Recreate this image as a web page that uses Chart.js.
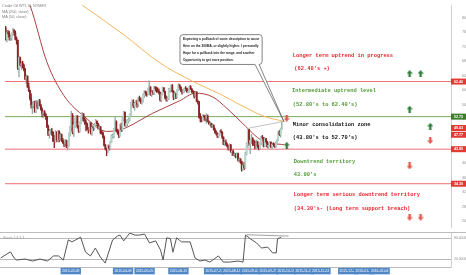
<!DOCTYPE html>
<html lang="en">
<head>
<meta charset="utf-8" />
<title>Crude Oil WTI, D, NYMEX</title>
<style>
  html, body { margin: 0; padding: 0; background: #fff; }
  #wrap { position: relative; width: 466px; height: 275px; overflow: hidden; }
  #priceWrap { position: absolute; left: 0; top: 0; width: 466px; height: 232px; }
  #oscWrap { position: absolute; left: 0; top: 232px; width: 466px; height: 43px; }
</style>
</head>
<body>
<div id="wrap">
  <div id="priceWrap"><canvas id="priceChart"></canvas></div>
  <div id="oscWrap"><canvas id="oscChart"></canvas></div>
</div>
<script src="https://cdn.jsdelivr.net/npm/chart.js@4.4.1/dist/chart.umd.min.js"></script>
<script>
// daily bars, 13 Nov 2014 .. 9 Oct 2015 (bar index = trading day)
const opens = [77.2,74.2,75.8,75.6,74.6,74.6,75.6,76.5,75.8,74.1,
  73.7,66.2,69.0,66.9,67.4,66.8,65.8,63.1,63.8,60.9,
  59.95,57.8,55.9,55.9,56.5,54.1,56.5,55.3,57.1,55.8,
  54.7,53.6,54.1,53.3,52.7,50.0,47.9,48.7,48.8,48.4,
  46.1,45.9,48.5,46.25,48.7,46.4,47.8,46.3,45.6,45.2,
  46.2,44.45,44.5,48.2,49.6,53.1,48.45,50.5,51.7,52.9,
  50.0,48.8,51.2,52.8,53.5,52.1,51.2,50.8,49.45,49.0,
  51.0,48.2,49.8,49.6,50.5,51.5,50.8,49.6,50.0,48.3,
  48.2,47.05,44.8,43.9,43.5,44.7,44.0,45.7,47.45,47.5,
  49.2,51.4,48.9,48.7,47.6,50.1,49.1,52.1,54.0,50.4,
  50.8,51.6,51.9,53.3,56.4,56.7,55.7,56.4,56.6,56.2,
  57.7,57.2,57.0,57.1,58.6,59.6,59.2,58.9,60.4,60.9,
  58.9,59.4,59.25,60.75,60.5,59.9,59.7,59.4,57.3,59.0,
  60.7,59.7,58.0,57.5,57.7,60.2,60.2,61.3,59.6,58.0,
  59.1,58.1,60.1,61.4,60.8,60.0,59.5,60.0,60.5,60.45,
  59.6,59.7,61.0,60.3,59.7,59.6,58.3,59.5,56.96,56.9,
  52.5,52.3,51.65,52.8,52.7,52.2,53.0,51.4,50.9,50.9,
  50.15,50.4,49.2,48.45,48.1,47.4,47.98,48.8,48.5,47.1,
  45.2,45.7,45.15,44.66,43.87,44.96,43.08,43.3,42.2,42.5,
  41.9,42.6,40.8,41.1,40.45,38.24,39.3,38.6,42.56,45.2,
  49.2,45.4,46.25,46.75,46.05,45.9,44.15,45.9,44.6,44.0,
  45.6,47.15,46.9,44.7,46.7,45.8,44.5,44.9,45.7,44.4,
  45.2,45.1,44.7,45.5,46.3,48.5,47.8,49.4];
const highs = [77.6,76.0,76.5,76.2,75.2,75.8,77.0,76.7,76.3,74.7,
  73.8,69.4,69.1,67.8,68.0,67.2,66.0,64.2,64.0,62.0,
  60.0,59.0,56.8,57.0,57.0,57.2,57.0,57.4,57.5,56.1,
  55.2,54.3,54.4,53.6,52.8,50.4,49.3,49.3,49.5,48.6,
  47.6,48.9,48.6,48.9,48.9,48.3,48.0,46.8,46.1,46.5,
  46.3,44.9,48.3,50.1,54.2,53.6,51.3,52.3,53.1,53.0,
  50.3,51.4,53.0,53.9,53.6,52.4,51.9,51.0,49.8,51.3,
  51.1,50.3,50.2,50.9,52.0,51.6,51.0,50.5,50.1,48.9,
  48.6,47.5,45.1,44.1,45.0,44.9,46.0,47.8,48.0,49.5,
  52.5,51.6,49.3,48.8,50.6,51.0,52.5,54.2,54.0,51.6,
  52.0,52.4,53.5,56.7,57.4,57.4,56.7,57.2,57.3,58.0,
  58.4,57.9,57.5,59.0,59.9,59.8,59.6,60.6,62.6,61.0,
  60.0,59.9,61.1,61.0,60.9,60.7,60.3,59.5,59.2,60.9,
  60.7,59.8,58.5,58.2,60.5,60.6,61.4,61.6,59.9,59.6,
  59.2,60.2,61.8,61.6,61.0,60.2,60.3,60.7,61.0,60.6,
  60.3,61.2,61.3,60.5,60.0,59.7,59.7,59.6,57.3,56.9,
  53.6,52.8,53.3,53.2,53.1,53.6,53.2,51.6,51.3,51.0,
  50.8,50.5,49.6,48.9,48.3,48.1,49.0,49.2,48.6,47.2,
  46.0,46.4,45.5,44.9,45.3,45.1,43.5,43.6,42.8,42.6,
  42.8,42.7,41.4,41.2,40.5,39.9,40.2,42.9,45.5,49.3,
  49.3,46.5,47.9,47.0,46.4,46.0,46.3,46.0,44.9,45.7,
  47.3,47.6,47.0,46.9,46.8,46.0,45.3,45.9,45.8,45.4,
  45.6,45.3,45.8,46.5,48.7,49.0,49.6,51.4];
const lows = [73.8,73.3,74.7,73.8,73.7,73.8,75.0,75.2,73.9,72.7,
  65.7,63.7,66.6,65.7,66.1,65.3,62.9,61.9,60.8,59.6,
  57.3,55.1,53.6,55.1,53.9,53.9,54.9,55.0,55.6,54.5,
  52.7,52.4,52.9,52.0,49.7,47.5,46.8,47.8,47.6,45.9,
  44.2,45.7,45.8,45.9,45.8,46.2,45.9,45.4,44.5,44.8,
  44.2,43.6,44.4,47.4,49.0,48.0,47.3,49.7,51.1,49.6,
  48.4,48.5,50.8,51.6,51.5,50.6,48.8,49.2,48.2,48.8,
  47.9,47.6,48.9,49.1,50.0,50.3,49.4,49.1,48.0,47.9,
  46.8,44.6,43.6,42.0,42.8,43.5,43.9,45.6,46.8,46.9,
  49.0,48.5,47.9,47.0,47.3,48.6,48.7,51.6,50.1,49.9,
  50.3,51.0,51.6,53.1,55.9,55.2,54.5,55.7,55.3,55.5,
  56.9,56.4,56.2,56.8,58.0,58.6,58.3,58.7,60.1,58.6,
  58.3,58.8,58.8,59.8,59.4,59.5,58.9,57.0,56.9,58.7,
  59.5,57.6,57.0,56.9,57.4,59.4,59.6,59.5,57.4,57.6,
  57.7,58.0,59.9,60.2,59.6,58.9,59.3,59.5,59.9,59.4,
  59.3,59.5,60.2,59.3,59.1,57.8,58.2,56.8,56.2,52.3,
  51.3,51.3,51.5,51.8,51.6,50.9,51.3,50.6,50.3,49.8,
  49.8,49.0,48.2,47.7,47.0,46.9,47.6,48.2,46.7,45.0,
  44.8,44.9,44.4,43.5,43.6,42.9,42.0,42.0,41.8,41.4,
  41.6,40.5,40.2,39.9,37.75,38.0,38.2,38.5,42.2,44.2,
  44.9,42.6,45.3,44.8,44.8,43.9,43.8,44.2,43.6,43.9,
  45.0,46.5,44.4,44.5,45.4,44.3,44.0,44.6,44.2,43.9,
  44.6,44.3,44.2,45.1,46.1,47.5,47.1,49.2];
const closes = [74.2,75.8,75.6,74.6,74.6,75.6,76.5,75.8,74.1,73.7,
  66.2,69.0,66.9,67.4,66.8,65.8,63.1,63.8,60.9,59.95,
  57.8,55.9,55.9,56.5,54.1,56.5,55.3,57.1,55.8,54.7,
  53.6,54.1,53.3,52.7,50.0,47.9,48.7,48.8,48.4,46.1,
  45.9,48.5,46.25,48.7,46.4,47.8,46.3,45.6,45.2,46.2,
  44.45,44.5,48.2,49.6,53.1,48.45,50.5,51.7,52.9,50.0,
  48.8,51.2,52.8,53.5,52.1,51.2,50.8,49.45,49.0,51.0,
  48.2,49.8,49.6,50.5,51.5,50.8,49.6,50.0,48.3,48.2,
  47.05,44.8,43.9,43.5,44.7,44.0,45.7,47.45,47.5,49.2,
  51.4,48.9,48.7,47.6,50.1,49.1,52.1,54.0,50.4,50.8,
  51.6,51.9,53.3,56.4,56.7,55.7,56.4,56.6,56.2,57.7,
  57.2,57.0,57.1,58.6,59.6,59.2,58.9,60.4,60.9,58.9,
  59.4,59.25,60.75,60.5,59.9,59.7,59.4,57.3,59.0,60.7,
  59.7,58.0,57.5,57.7,60.3,60.2,61.3,59.6,58.0,59.1,
  58.1,60.1,61.4,60.8,60.0,59.5,60.0,60.5,60.45,59.6,
  59.7,61.0,60.3,59.7,59.6,58.3,59.5,56.96,56.9,52.5,
  52.3,51.65,52.8,52.7,52.2,53.0,51.4,50.9,50.9,50.15,
  50.4,49.2,48.45,48.1,47.4,47.98,48.8,48.5,47.1,45.2,
  45.7,45.15,44.66,43.87,44.96,43.08,43.3,42.2,42.5,41.9,
  42.6,40.8,41.1,40.45,38.24,39.3,38.6,42.56,45.2,49.2,
  45.4,46.25,46.75,46.05,45.9,44.15,45.9,44.6,44.0,45.6,
  47.15,46.9,44.7,46.7,45.8,44.5,44.9,45.7,44.4,45.2,
  45.1,44.7,45.5,46.3,48.5,47.8,49.4,49.63];

// moving averages
const ma200Bars = [48, 63, 97, 126, 154, 176, 195, 212, 229];
const ma200 = [87.1, 83.4, 75.3, 67.7, 62.4, 59.0, 55.6, 52.9, 51.4];
const ma50Bars = [16, 20, 34, 48, 65, 83, 95, 121, 143, 156, 170, 182, 195, 211, 229];
const ma50 = [86.0, 83.4, 67.7, 58.5, 52.7, 48.7, 49.2, 53.7, 57.1, 59.2, 58.2, 55.0, 50.8, 46.1, 45.0];

// drawn levels and marks
const levelValues = [62.40, 52.75, 43.80, 34.30];
const axisTags = [62.40, 52.75, 49.63, 47.77, 43.80, 34.30];
const trendBars = [200, 228];
const trendPrices = [49.6, 51.4];
const upMarkBars = [332, 341, 332, 349, 231];
const upMarkPrices = [64.6, 64.6, 54.8, 50.1, 44.85];
const downMarkBars = [349, 332, 332, 341, 231];
const downMarkPrices = [46.2, 39.2, 25.1, 25.1, 52.3];

// stochastic
const stochBars = [0, 8, 11, 13, 20, 26, 32, 38, 43, 47, 51, 55, 58, 61, 65, 69, 73, 77, 81, 85,
  91, 95, 97, 100, 103, 105, 109, 113, 117, 121, 126, 130, 132, 135, 138, 140, 143, 147, 154, 158,
  162, 166, 170, 177, 181, 186, 193, 197, 199, 203, 208, 212, 217, 221, 224, 225, 228];
const stochK = [23, 41, 23, 17, 20, 14, 20, 14, 29, 29, 17, 76, 70, 76, 84, 40, 29, 52, 26, 8,
  76, 87, 90, 73, 87, 96, 90, 90, 93, 67, 73, 46, 17, 82, 79, 40, 82, 70, 70, 23,
  14, 17, 11, 29, 11, 11, 14, 11, 90, 79, 67, 52, 55, 38, 38, 79, 84];
const stochTrendBars = [200, 234];
const stochTrendValues = [91, 87];

// axes
const priceTicks = [80, 76, 72, 68, 64, 60, 56, 52, 48, 44, 40, 36, 32, 28, 24];
const oscTicks = [80, 20];
const monthLabels = ['Dec', '2015', 'Feb', 'Mar', 'Apr', 'May', 'Jun', 'Jul', 'Aug', 'Sep', 'Oct', 'Nov', 'Dec', '2016', 'Feb', 'Mar', 'Apr'];
const monthBars = [11, 33, 53, 72, 94, 115, 135, 157, 179, 200, 221, 243, 263, 285, 304, 324, 346];
const dateTagBars = [57, 99.5, 117, 144.5, 173.5, 188, 203, 217.5, 232, 246.5, 260, 282.5, 295.5, 308];
const dateTagTexts = ['2015-02-09', '2015-04-09', '2015-05-05', '2015-06-15', '2015-07-24', '2015-08-14', '2015-09-04',
  '2015-09-25', '2015-10-16', '2015-11-05', '2015-11-24', '2015-12-29', '2016-01-19', '2016-02-04'];

const xMin = -0.5, xMax = 366;
const RED = '#e8262b', GREEN = '#4f9a34';

function arrowMark(color, up) {
  const c = document.createElement('canvas');
  c.width = 6; c.height = 7;
  const g = c.getContext('2d');
  g.fillStyle = color;
  g.beginPath();
  if (up) {
    g.moveTo(0, 3.4); g.lineTo(3, 0); g.lineTo(6, 3.4);
    g.lineTo(4.2, 3.4); g.lineTo(4.2, 7); g.lineTo(1.8, 7); g.lineTo(1.8, 3.4);
  } else {
    g.moveTo(0, 3.6); g.lineTo(3, 7); g.lineTo(6, 3.6);
    g.lineTo(4.2, 3.6); g.lineTo(4.2, 0); g.lineTo(1.8, 0); g.lineTo(1.8, 3.6);
  }
  g.closePath();
  g.fill();
  return c;
}

const notes = [
  { text: 'Longer term uptrend in progress', bar: 236, price: 69.6, color: RED },
  { text: "(62.40's +)", bar: 237.2, price: 65.9, color: RED },
  { text: 'Intermediate uptrend level', bar: 235.3, price: 59.9, color: GREEN },
  { text: "(52.80's to 62.40's)", bar: 236, price: 56.1, color: GREEN },
  { text: 'Minor consolidation zone', bar: 236, price: 50.6, color: '#111' },
  { text: "(43.80's to 52.70's)", bar: 236, price: 46.95, color: '#111' },
  { text: 'Downtrend territory', bar: 236.8, price: 40.4, color: GREEN },
  { text: "43.90's", bar: 236.8, price: 36.7, color: GREEN },
  { text: 'Longer term serious downtrend territory', bar: 236.8, price: 31.3, color: RED },
  { text: "(34.30's- (Long term support breach)", bar: 236.8, price: 27.5, color: RED },
];
const calloutLines = [
  'Expecting a pullback of some description to occur',
  'Here on the 200MA, or slightly higher. I personally',
  'Hope for a pullback into the range, and another',
  'Opportunity to get more position.',
];

const priceDecor = {
  id: 'priceDecor',
  afterDraw(chart) {
    const { ctx, scales: { x, y } } = chart;
    ctx.save();
    ctx.textBaseline = 'middle';
    // legend
    ctx.font = '3.8px "Liberation Sans"';
    ctx.fillStyle = '#808080';
    ctx.fillText('Crude Oil WTI, D, NYMEX', 2, 5.7);
    ctx.fillText('MA (200, close)', 2, 11.6);
    ctx.fillText('MA (50, close)', 2, 17.4);

    // callout
    const bl = x.getPixelForValue(143.3), br = x.getPixelForValue(210.8);
    const bt = y.getPixelForValue(75.3), bb = y.getPixelForValue(67.1);
    const tx = x.getPixelForValue(228.7), ty = y.getPixelForValue(51.4);
    const p1 = x.getPixelForValue(205), p2 = x.getPixelForValue(208.3);
    const r = 3;
    ctx.beginPath();
    ctx.moveTo(bl + r, bt); ctx.lineTo(br - r, bt); ctx.quadraticCurveTo(br, bt, br, bt + r);
    ctx.lineTo(br, bb - r); ctx.quadraticCurveTo(br, bb, br - r, bb);
    ctx.lineTo(p2, bb); ctx.lineTo(tx, ty); ctx.lineTo(p1, bb);
    ctx.lineTo(bl + r, bb); ctx.quadraticCurveTo(bl, bb, bl, bb - r);
    ctx.lineTo(bl, bt + r); ctx.quadraticCurveTo(bl, bt, bl + r, bt);
    ctx.closePath();
    ctx.fillStyle = '#fff';
    ctx.fill();
    ctx.strokeStyle = '#666';
    ctx.lineWidth = 0.8;
    ctx.stroke();
    ctx.fillStyle = '#222';
    ctx.font = 'bold 3.2px "Liberation Sans"';
    calloutLines.forEach((t, k) => ctx.fillText(t, bl + 3, bt + 4.3 + k * 7.2));

    // notes
    ctx.font = 'bold 5.4px "Liberation Mono"';
    notes.forEach(n => {
      ctx.fillStyle = n.color;
      ctx.fillText(n.text, x.getPixelForValue(n.bar), y.getPixelForValue(n.price));
    });

    // price tags on the axis
    ctx.font = 'bold 3.6px "Liberation Sans"';
    ctx.textAlign = 'center';
    axisTags.forEach(v => {
      const py = y.getPixelForValue(v);
      ctx.fillStyle = v === 52.75 ? '#3f7d2c' : '#e53935';
      ctx.fillRect(451, py - 3, 15, 6);
      ctx.fillStyle = '#fff';
      ctx.fillText(v.toFixed(2), 458.5, py + 0.2);
    });
    ctx.restore();
  }
};

const levelDatasets = levelValues.map((v, k) => ({
  type: 'line',
  data: [{ x: xMin, y: v }, { x: xMax, y: v }],
  borderColor: k === 1 ? '#7aab60' : '#f07074',
  borderWidth: 1,
  pointRadius: 0,
  order: 6,
}));

new Chart(document.getElementById('priceChart'), {
  type: 'bar',
  data: {
    datasets: [
      {
        type: 'line',
        data: upMarkBars.map((b, i) => ({ x: b, y: upMarkPrices[i] })),
        showLine: false,
        pointStyle: arrowMark('#2f7d3a', true),
        order: 0,
      },
      {
        type: 'line',
        data: downMarkBars.map((b, i) => ({ x: b, y: downMarkPrices[i] })),
        showLine: false,
        pointStyle: arrowMark('#e2584d', false),
        order: 0,
      },
      {
        label: 'bodies',
        data: opens.map((o, i) => ({ x: i, y: [o, closes[i]] })),
        backgroundColor: (c) => closes[c.dataIndex] >= opens[c.dataIndex] ? '#b7d3cc' : '#8b2525',
        barThickness: 1.2,
        grouped: false,
        order: 2,
      },
      {
        label: 'wicks',
        data: lows.map((l, i) => ({ x: i, y: [l, highs[i]] })),
        backgroundColor: (c) => closes[c.dataIndex] >= opens[c.dataIndex] ? '#8fa9a3' : '#8b2525',
        barThickness: 0.7,
        grouped: false,
        order: 3,
      },
      {
        type: 'line',
        data: trendBars.map((b, i) => ({ x: b, y: trendPrices[i] })),
        borderColor: '#b3b3b3',
        borderWidth: 0.8,
        pointRadius: 0,
        order: 1,
      },
      {
        type: 'line',
        label: 'MA 200',
        data: ma200Bars.map((b, i) => ({ x: b, y: ma200[i] })),
        borderColor: '#f5b75e',
        borderWidth: 1,
        pointRadius: 0,
        cubicInterpolationMode: 'monotone',
        order: 4,
      },
      {
        type: 'line',
        label: 'MA 50',
        data: ma50Bars.map((b, i) => ({ x: b, y: ma50[i] })),
        borderColor: '#a8413f',
        borderWidth: 1,
        pointRadius: 0,
        cubicInterpolationMode: 'monotone',
        order: 4,
      },
      ...levelDatasets,
    ],
  },
  options: {
    responsive: true,
    maintainAspectRatio: false,
    animation: false,
    layout: { padding: 0 },
    plugins: { legend: { display: false }, tooltip: { enabled: false } },
    scales: {
      x: { type: 'linear', min: xMin, max: xMax, display: false, offset: false },
      y: {
        position: 'right',
        min: 22.4,
        max: 83.45,
        afterBuildTicks: (s) => { s.ticks = priceTicks.map(v => ({ value: v })); },
        afterFit: (s) => { s.width = 15; s.paddingTop = 0; s.paddingBottom = 0; },
        ticks: {
          font: { size: 3.6, family: '"Liberation Sans"' },
          color: '#8a8a8a',
          padding: 3,
          callback: (v) => v.toFixed(2),
        },
        grid: { display: false },
        border: { color: '#cfcfcf' },
      },
    },
  },
  plugins: [priceDecor],
});

const oscDecor = {
  id: 'oscDecor',
  afterDraw(chart) {
    const { ctx, chartArea, scales: { x } } = chart;
    ctx.save();
    ctx.strokeStyle = '#bdbdbd';
    ctx.lineWidth = 1;
    ctx.beginPath();
    ctx.moveTo(0, 0.5); ctx.lineTo(466, 0.5);
    ctx.stroke();
    ctx.font = '3.8px "Liberation Sans"';
    ctx.fillStyle = '#9a9a9a';
    ctx.textBaseline = 'middle';
    ctx.fillText('Stoch 14 3 3', 3, 5.6);
    // date tags on the time axis
    ctx.font = '3.4px "Liberation Sans"';
    ctx.textAlign = 'center';
    dateTagBars.forEach((b, i) => {
      const px = x.getPixelForValue(b);
      const w = ctx.measureText(dateTagTexts[i]).width + 3;
      ctx.fillStyle = '#4f86c6';
      ctx.fillRect(px - w / 2, chartArea.bottom + 0.8, w, 6.5);
      ctx.fillStyle = '#fff';
      ctx.fillText(dateTagTexts[i], px, chartArea.bottom + 4.1);
    });
    ctx.restore();
  }
};

new Chart(document.getElementById('oscChart'), {
  type: 'line',
  data: {
    datasets: [
      {
        label: 'Stoch %K',
        data: stochBars.map((b, i) => ({ x: b, y: stochK[i] })),
        borderColor: '#555',
        borderWidth: 1,
        pointRadius: 0,
      },
      {
        data: stochTrendBars.map((b, i) => ({ x: b, y: stochTrendValues[i] })),
        borderColor: '#8a8a8a',
        borderWidth: 0.8,
        pointRadius: 0,
      },
    ],
  },
  options: {
    responsive: true,
    maintainAspectRatio: false,
    animation: false,
    layout: { padding: 0 },
    plugins: { legend: { display: false }, tooltip: { enabled: false } },
    scales: {
      x: {
        type: 'linear',
        min: xMin,
        max: xMax,
        offset: false,
        afterBuildTicks: (s) => { s.ticks = monthBars.map(v => ({ value: v })); },
        afterFit: (s) => { s.height = 8; s.paddingLeft = 0; s.paddingRight = 0; },
        ticks: {
          autoSkip: false,
          maxRotation: 0,
          padding: 2,
          font: { size: 3.8, family: '"Liberation Sans"' },
          color: '#8a8a8a',
          callback: (v) => monthLabels[monthBars.indexOf(v)],
        },
        grid: { display: false },
        border: { color: '#bdbdbd' },
      },
      y: {
        position: 'right',
        min: -3.4,
        max: 99,
        afterBuildTicks: (s) => { s.ticks = oscTicks.map(v => ({ value: v })); },
        afterFit: (s) => { s.width = 15; s.paddingTop = 0; s.paddingBottom = 0; },
        ticks: {
          font: { size: 3.4, family: '"Liberation Sans"' },
          color: '#8a8a8a',
          padding: 3,
          callback: (v) => v.toFixed(4),
        },
        grid: { color: '#b8b8b8', drawTicks: false },
        border: { color: '#cfcfcf' },
      },
    },
  },
  plugins: [oscDecor],
});
</script>
</body>
</html>
